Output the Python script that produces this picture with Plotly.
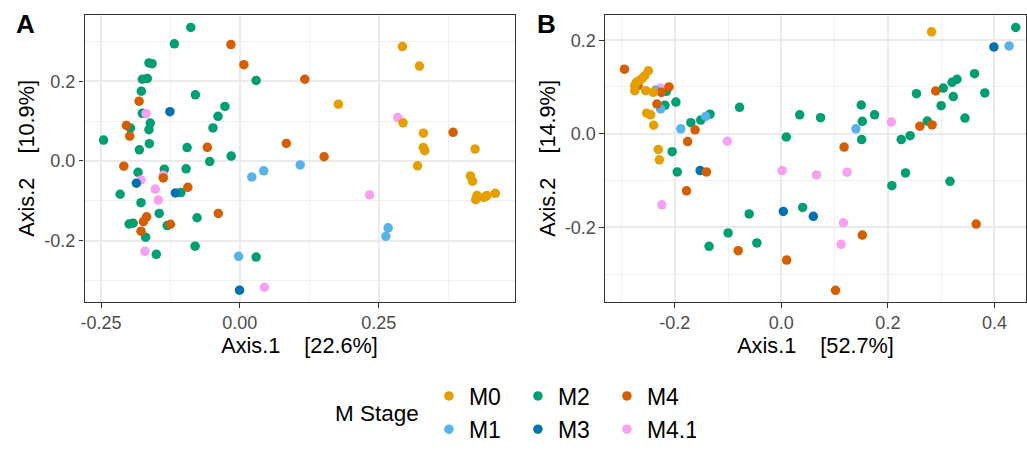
import plotly.graph_objects as go

stages = ["M0", "M1", "M2", "M3", "M4", "M4.1"]
colors = {"M0": "#E69F00", "M1": "#56B4E9", "M2": "#009E73",
          "M3": "#0072B2", "M4": "#D55E00", "M4.1": "#F7A1F3"}

# ---------------- Panel A ----------------
a_m0_x = [0.2927, 0.3234, 0.1774, 0.2939, 0.3305, 0.3303, 0.333, 0.320, 0.4235, 0.4152, 0.419, 0.427, 0.4247, 0.4396, 0.445, 0.460]
a_m0_y = [0.287, 0.238, 0.1424, 0.0958, 0.0697, 0.0336, 0.026, -0.012, 0.030, -0.0375, -0.0506, -0.0866, -0.097, -0.0915, -0.0866, -0.081]
a_m1_x = [0.0215, 0.043, 0.1087, -0.0024, 0.267, 0.2629]
a_m1_y = [-0.040, -0.0245, -0.0098, -0.239, -0.1677, -0.189]
a_m2_x = [-0.2455, -0.0884, -0.118, -0.1637, -0.158, -0.1756, -0.1667, -0.1774, -0.080, -0.0269, -0.0394, -0.0484,
          0.0293, -0.1756, -0.1613, -0.1637, -0.197, -0.163, -0.181, -0.095, -0.0156, -0.0543, -0.136, -0.0968,
          -0.1834, -0.2156, -0.178, -0.1063, -0.1452, -0.0771, -0.1995, -0.1923, -0.1308, -0.1697, -0.0806, -0.1505, 0.0293]
a_m2_y = [0.0525, 0.335, 0.294, 0.246, 0.244, 0.205, 0.207, 0.175, 0.166, 0.137, 0.112, 0.083,
          0.202, 0.1195, 0.095, 0.0786, 0.0827, 0.0434, 0.028, 0.0336, 0.0123, -0.0015, -0.0204, -0.0196,
          -0.0285, -0.0834, -0.1046, -0.0793, -0.1316, -0.1423, -0.158, -0.156, -0.162, -0.191, -0.2135, -0.234, -0.241]
a_m3_x = [-0.126, -0.1864, -0.116, -0.0006]
a_m3_y = [0.1236, -0.0555, -0.080, -0.324]
a_m4_x = [-0.0161, 0.0072, -0.1815, -0.2043, -0.1984, 0.0837, -0.0586, -0.209, -0.138, -0.0937, -0.0389,
          -0.168, -0.1738, -0.178, -0.125, 0.117, 0.1517, 0.384]
a_m4_y = [0.292, 0.2415, 0.150, 0.0893, 0.0623, 0.0442, 0.0344, -0.013, -0.0425, -0.066, -0.1316,
          -0.140, -0.152, -0.176, -0.1586, 0.205, 0.0107, 0.072]
a_m41_x = [-0.169, -0.178, -0.1523, -0.147, -0.171, 0.0442, 0.2844, 0.2336, -0.138]
a_m41_y = [0.1188, -0.0474, -0.0703, -0.098, -0.2265, -0.3166, 0.109, -0.085, -0.036]

# ---------------- Panel B ----------------
b_m0_x = [-0.2497, -0.2566, -0.261, -0.266, -0.2722, -0.2753, -0.2753, -0.2548, -0.2404, -0.2529, -0.2454, -0.2398, -0.231, -0.229, 0.282]
b_m0_y = [0.1347, 0.124, 0.1186, 0.1144, 0.110, 0.1033, 0.092, 0.092, 0.0887, 0.044, 0.0406, 0.0182, -0.0335, -0.0557, 0.218]
b_m1_x = [-0.236, -0.2267, -0.1888, -0.142, 0.140, 0.4275]
b_m1_y = [0.0935, 0.053, 0.0105, 0.037, 0.0105, 0.1877]
b_m2_x = [-0.216, -0.2187, -0.198, -0.170, -0.1514, -0.1339, -0.0785, -0.205, -0.1955, -0.0604, -0.100, -0.1357, -0.046,
          0.0093, 0.0344, 0.0736, 0.040, 0.150, 0.152, 0.1508, 0.175, 0.2075, 0.225, 0.2418, 0.233, 0.2536, 0.274,
          0.300, 0.304, 0.3204, 0.3297, 0.3228, 0.3166, 0.3447, 0.3626, 0.382, 0.440]
b_m2_y = [0.0908, 0.0607, 0.0678, 0.0238, 0.0293, 0.0418, 0.0565, -0.0383, -0.0816, -0.1715, -0.212, -0.2406, -0.2335,
          -0.0069, 0.0405, 0.0343, -0.1575, 0.0615, 0.0266, -0.0125, 0.0405, -0.111, -0.0125, -0.0042, -0.0837, 0.0858, 0.0272,
          0.060, 0.0977, 0.110, 0.1165, 0.0795, -0.1017, 0.0335, 0.1284, 0.0872, 0.2274]
b_m3_x = [-0.1525, 0.399, 0.0037, 0.060]
b_m3_y = [-0.0787, 0.1856, -0.166, -0.1764]
b_m4_x = [-0.2946, -0.211, -0.269, -0.2254, -0.2336, -0.162, -0.176, -0.1407, -0.178, -0.081,
          0.2897, 0.260, 0.283, 0.1178, 0.152, 0.3658, 0.010, 0.1017]
b_m4_y = [0.138, 0.100, 0.103, 0.0887, 0.0636, 0.0084, -0.0167, -0.0816, -0.122, -0.250,
          0.0914, 0.0161, 0.0188, -0.0285, -0.2167, -0.193, -0.270, -0.3347]
b_m41_x = [-0.2267, -0.1015, -0.2243, 0.0013, 0.066, 0.1234, 0.2063, 0.1166, 0.1122]
b_m41_y = [0.0977, -0.016, -0.152, -0.0787, -0.0879, -0.0822, 0.0251, -0.1904, -0.2364]

a_x_ticks = [-0.25, 0.0, 0.25]
a_x_text = ["-0.25", "0.00", "0.25"]
a_y_ticks = [-0.2, 0.0, 0.2]
a_y_text = ["-0.2", "0.0", "0.2"]
b_x_ticks = [-0.2, 0.0, 0.2, 0.4]
b_x_text = ["-0.2", "0.0", "0.2", "0.4"]
b_y_ticks = [-0.2, 0.0, 0.2]
b_y_text = ["-0.2", "0.0", "0.2"]

panel_a = {"M0": (a_m0_x, a_m0_y), "M1": (a_m1_x, a_m1_y), "M2": (a_m2_x, a_m2_y),
           "M3": (a_m3_x, a_m3_y), "M4": (a_m4_x, a_m4_y), "M4.1": (a_m41_x, a_m41_y)}
panel_b = {"M0": (b_m0_x, b_m0_y), "M1": (b_m1_x, b_m1_y), "M2": (b_m2_x, b_m2_y),
           "M3": (b_m3_x, b_m3_y), "M4": (b_m4_x, b_m4_y), "M4.1": (b_m41_x, b_m41_y)}

draw_order = ["M2", "M4.1", "M3", "M1", "M4", "M0"]
legend_of = {"M0": "legend", "M2": "legend", "M4": "legend",
             "M1": "legend2", "M3": "legend2", "M4.1": "legend2"}
rank = {"M0": 1, "M2": 2, "M4": 3, "M1": 4, "M3": 5, "M4.1": 6}

FONT = "Liberation Sans, Arial, sans-serif"
fig = go.Figure()
for s in draw_order:
    x, y = panel_a[s]
    fig.add_trace(go.Scatter(x=x, y=y, mode="markers", name=s, legendgroup=s,
                             legend=legend_of[s], legendrank=rank[s],
                             marker=dict(color=colors[s], size=9.5, line=dict(width=0)),
                             xaxis="x", yaxis="y"))
for s in draw_order:
    x, y = panel_b[s]
    fig.add_trace(go.Scatter(x=x, y=y, mode="markers", name=s, legendgroup=s, showlegend=False,
                             marker=dict(color=colors[s], size=9.5, line=dict(width=0)),
                             xaxis="x2", yaxis="y2"))

W, H = 1027, 451


def py(px):
    return (H - px) / H


ydom = [py(309), py(15)]


def axis_common(title, tickvals, ticktext, rng, dom, minor_dtick, minor_tick0, anchor):
    return dict(
        domain=dom, range=rng, anchor=anchor,
        tickmode="array", tickvals=tickvals, ticktext=ticktext,
        ticks="outside", ticklen=4.5, tickwidth=1.2, tickcolor="#333333",
        tickfont=dict(family=FONT, size=18, color="#4D4D4D"),
        showline=True, linecolor="#333333", linewidth=1.3, mirror=True,
        showgrid=True, gridcolor="#EBEBEB", gridwidth=1.6, zeroline=False,
        minor=dict(showgrid=True, gridcolor="#F0F0F0", gridwidth=0.9, dtick=minor_dtick, tick0=minor_tick0, ticks=""),
        title=dict(text=title, font=dict(family=FONT, size=21.7, color="#000000"), standoff=3),
    )

sp = "\u00a0\u00a0\u00a0\u00a0"
fig.update_layout(
    width=W, height=H, autosize=False,
    margin=dict(l=0, r=0, t=0, b=0),
    paper_bgcolor="white", plot_bgcolor="white",
    font=dict(family=FONT),
    xaxis=axis_common("Axis.1" + sp + "[22.6%]", a_x_ticks, a_x_text, [-0.2796, 0.4946],
                      [81 / W, 513 / W], 0.125, -0.125, "y"),
    yaxis=axis_common("Axis.2" + sp + "[10.9%]", a_y_ticks, a_y_text, [-0.354, 0.367],
                      ydom, 0.2, 0.1, "x"),
    xaxis2=axis_common("Axis.1" + sp + "[52.7%]", b_x_ticks, b_x_text, [-0.331, 0.4593],
                       [604 / W, 1.0], 0.2, 0.1, "y2"),
    yaxis2=axis_common("Axis.2" + sp + "[14.9%]", b_y_ticks, b_y_text, [-0.360, 0.2546],
                       ydom, 0.2, 0.1, "x2"),
    legend=dict(orientation="h", x=427 / W, xanchor="left", y=py(405), yanchor="middle",
                font=dict(family=FONT, size=23, color="#000000"), entrywidth=44,
                traceorder="normal", bgcolor="rgba(0,0,0,0)"),
    legend2=dict(orientation="h", x=427 / W, xanchor="left", y=py(439), yanchor="middle",
                 font=dict(family=FONT, size=23, color="#000000"), entrywidth=44,
                 traceorder="normal", bgcolor="rgba(0,0,0,0)"),
    annotations=[
        dict(text="<b>A</b>", x=10 / W, y=py(25), xref="paper", yref="paper",
             xanchor="left", yanchor="middle", showarrow=False,
             font=dict(family=FONT, size=26, color="#000000")),
        dict(text="<b>B</b>", x=534 / W, y=py(25), xref="paper", yref="paper",
             xanchor="left", yanchor="middle", showarrow=False,
             font=dict(family=FONT, size=26, color="#000000")),
        dict(text="M Stage", x=375 / W, y=py(423), xref="paper", yref="paper",
             xanchor="center", yanchor="middle", showarrow=False,
             font=dict(family=FONT, size=22.5, color="#000000")),
    ],
)

fig.write_html(
    "out.html",
    config={"displayModeBar": False, "responsive": False},
    default_width="1027px", default_height="451px",
    post_script="document.body.style.margin='0';document.body.style.overflow='hidden';"
                "document.documentElement.style.overflow='hidden';",
)
